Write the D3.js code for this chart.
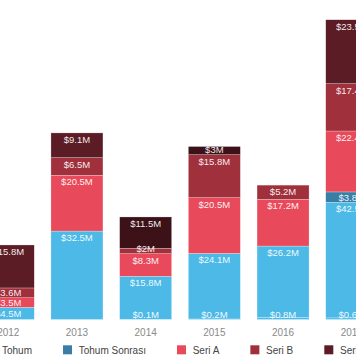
<!DOCTYPE html>
<html><head><meta charset="utf-8">
<script src="https://cdn.jsdelivr.net/npm/d3@7"></script>
<style>body{margin:0;background:#fff;overflow:hidden}svg{display:block}</style>
</head><body><svg id="c" width="356" height="364"></svg>
<script>
const years = ["2012","2013","2014","2015","2016","2017"];
const seriesNames = ["Melek","Tohum","Tohum Sonrası","Seri A","Seri B","Seri C","Seri D"];
const seriesColors = ["#4cb9e7","#4cb9e7","#3a7ea6","#e84a5b","#a1303d","#5c1c25","#3c1117"];
const melek        = [0,    0,    0.1,  0.2,  0.8,  0.6];
const tohum        = [4.5,  32.5, 15.8, 24.1, 26.2, 42.5];
const tohumSonrasi = [0,    0,    0,    0,    0,    3.8];
const seriA        = [3.5,  20.5, 8.3,  20.5, 17.2, 22.4];
const seriB        = [3.6,  6.5,  2,    15.8, 5.2,  17.4];
const seriC        = [15.8, 9.1,  0,    0,    0,    23.5];
const seriD        = [0,    0,    11.5, 3,    0,    0];
const seriesValues = [melek, tohum, tohumSonrasi, seriA, seriB, seriC, seriD];

const FONT = "'Liberation Sans', Arial, Helvetica, sans-serif";
const svg = d3.select("#c");

const rows = years.map((y, i) => {
  const r = {year: y};
  seriesNames.forEach((n, k) => r[n] = seriesValues[k][i]);
  return r;
});
const stacked = d3.stack().keys(seriesNames)(rows);

const x = d3.scaleBand().domain(years)
  .range([-26.1, -26.1 + 6 * 68.7])
  .paddingInner(0.243).paddingOuter(0.1215);
const y = d3.scaleLinear().domain([0, 110]).range([319.5, 20.3]);
const color = d3.scaleOrdinal().domain(seriesNames).range(seriesColors);

// bars
const g = svg.append("g");
stacked.forEach(layer => {
  g.selectAll(null).data(layer.filter(d => d.data[layer.key] > 0)).enter()
    .append("rect")
    .attr("x", d => x(d.data.year))
    .attr("width", x.bandwidth())
    .attr("y", d => y(d[1]))
    .attr("height", d => y(d[0]) - y(d[1]))
    .attr("fill", color(layer.key))
    .attr("stroke", "#fff").attr("stroke-width", 0.5).attr("stroke-opacity", 0.5);
});

// labels with simple collision avoidance
years.forEach((yr, i) => {
  const labs = [];
  stacked.forEach(layer => {
    const d = layer[i];
    const v = d.data[layer.key];
    if (v > 0) {
      const top = y(d[1]), bot = y(d[0]);
      labs.push({v, cy: Math.min(top + 6.5, bot - 5)});
    }
  });
  for (let k = 1; k < labs.length; k++) {
    labs[k].cy = Math.min(labs[k].cy, labs[k-1].cy - 10);
  }
  labs.forEach(l => {
    svg.append("text")
      .attr("x", x(yr) + x.bandwidth() / 2)
      .attr("y", l.cy)
      .attr("text-anchor", "middle")
      .attr("dominant-baseline", "central")
      .attr("font-family", FONT).attr("font-size", 9.5)
      .attr("fill", "#fff").attr("fill-opacity", 0.93)
      .text("$" + l.v + "M");
  });
});

// x axis labels
svg.append("g").selectAll("text").data(years).enter().append("text")
  .attr("x", d => x(d) + x.bandwidth() / 2)
  .attr("y", 332.5)
  .attr("text-anchor", "middle")
  .attr("dominant-baseline", "central")
  .attr("font-family", FONT).attr("font-size", 10)
  .attr("fill", "#8a8a8a")
  .text(d => d);

// legend
const lg = svg.append("g");
const items = seriesNames.map(n => {
  const it = lg.append("g");
  it.append("rect").attr("width", 9).attr("height", 9).attr("y", 345.3).attr("fill", color(n));
  const t = it.append("text").attr("x", 15.7).attr("y", 350)
    .attr("dominant-baseline", "central")
    .attr("font-family", FONT).attr("font-size", 10).attr("fill", "#444").text(n);
  return {it, w: t.node().getComputedTextLength()};
});
let pos = [], cx = 0;
items.forEach(o => { pos.push(cx); cx += 15.7 + o.w + 31; });
const shift = -13.7 - pos[1];
items.forEach((o, k) => o.it.attr("transform", `translate(${pos[k] + shift},0)`));
</script>
</body></html>
